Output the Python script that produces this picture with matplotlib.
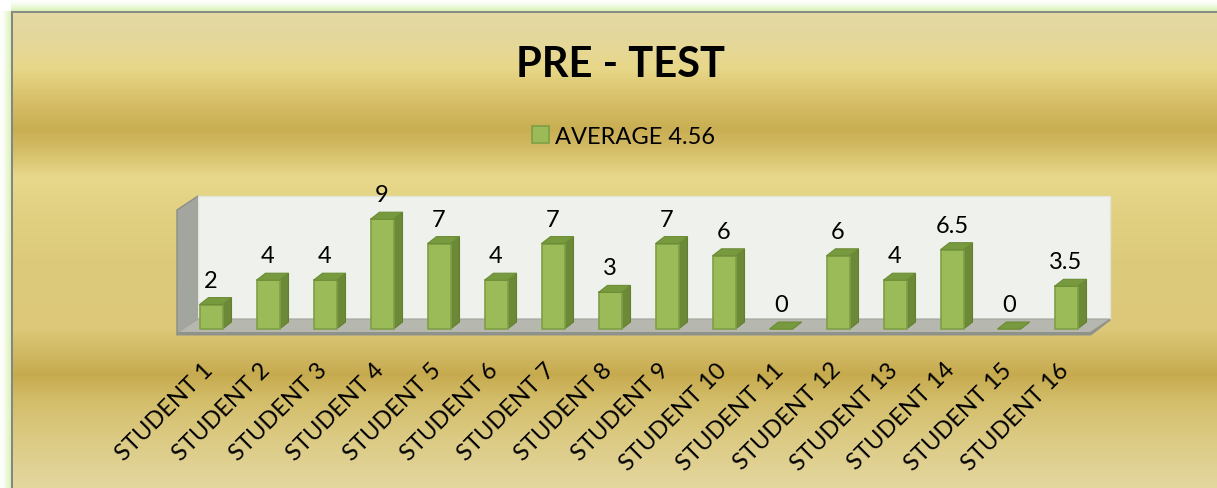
import numpy as np
import matplotlib
matplotlib.use("Agg")
import matplotlib.pyplot as plt
from matplotlib.patches import Polygon, Patch

# ---------------- data ----------------
categories = ["STUDENT 1", "STUDENT 2", "STUDENT 3", "STUDENT 4", "STUDENT 5",
              "STUDENT 6", "STUDENT 7", "STUDENT 8", "STUDENT 9", "STUDENT 10",
              "STUDENT 11", "STUDENT 12", "STUDENT 13", "STUDENT 14", "STUDENT 15",
              "STUDENT 16"]
scores = [2, 4, 4, 9, 7, 4, 7, 3, 7, 6, 0, 6, 4, 6.5, 0, 3.5]
value_labels = ["2", "4", "4", "9", "7", "4", "7", "3", "7", "6", "0", "6", "4",
                "6.5", "0", "3.5"]
series_name = "AVERAGE 4.56"
title_text = "PRE - TEST"

# ---------------- layout / style ----------------
W, H = 1217, 489
FONT = ["Lato", "DejaVu Sans"]
plt.rcParams["font.family"] = FONT

fig = plt.figure(figsize=(W / 100, H / 100), dpi=100)
fig.patch.set_facecolor("white")

# background image (frame glow + gold gradient)
def hex2rgb(h):
    h = h.lstrip("#")
    return np.array([int(h[i:i + 2], 16) / 255 for i in (0, 2, 4)])

stops = [(0, "#e4daa8"), (40, "#e4d79c"), (68, "#e8d88a"), (100, "#d8c06a"),
         (130, "#c9ae52"), (150, "#d3bc66"), (178, "#e8d98c"), (205, "#e3d283"),
         (260, "#ddcb7b"), (330, "#dcc878"), (358, "#cfb660"), (375, "#c6aa4e"),
         (400, "#d3bd6a"), (440, "#dccb84"), (489, "#e4d7a0")]
sy = np.array([s[0] for s in stops], float)
sc = np.array([hex2rgb(s[1]) for s in stops])
rows = np.arange(H)
grad = np.stack([np.interp(rows, sy, sc[:, k]) for k in range(3)], axis=1)

img = np.ones((H, W, 3))
img[:, :, :] = grad[:, None, :]
glow = hex2rgb("#d6f0ae")
white = np.ones(3)
bx, by = 11, 12
for x in range(0, bx):
    t = (x / bx) ** 1.5
    img[by:, x] = white * (1 - t) + glow * t
for y in range(0, by):
    t = (y / by) ** 1.5
    img[y, bx:] = white * (1 - t) + glow * t
img[:by, :bx] = white
img[by:, bx:bx + 2] = hex2rgb("#858585")
img[by:by + 2, bx:] = hex2rgb("#8a8c86")

bg = fig.add_axes([0, 0, 1, 1], zorder=0)
bg.imshow(img, extent=(0, W, H, 0), aspect="auto", interpolation="bilinear")
bg.set_xlim(0, W)
bg.set_ylim(H, 0)
bg.axis("off")

# main axes: pixel mapping of data space
X0, STEP, Y0, UNIT = 211.0, 57.0, 330.0, 12.2
L, R, T, B = 150, 1150, 190, 340
ax = fig.add_axes([L / W, 1 - B / H, (R - L) / W, (B - T) / H], zorder=1)
ax.set_xlim((L - X0) / STEP, (R - X0) / STEP)
ax.set_ylim((Y0 - B) / UNIT, (Y0 - T) / UNIT)
ax.patch.set_alpha(0)
ax.axis("off")

def px(x):
    return (x - X0) / STEP

def py(y):
    return (Y0 - y) / UNIT

# walls and floor
side_wall = Polygon([(px(177), py(335)), (px(177), py(211)), (px(198), py(197)),
                     (px(198), py(320))], closed=True, facecolor="#a3a59f",
                    edgecolor="#8c8e88", lw=1, clip_on=False, zorder=1)
back_wall = Polygon([(px(198), py(320)), (px(198), py(197)), (px(1110), py(197)),
                     (px(1110), py(320))], closed=True, facecolor="#eff2ec",
                    edgecolor="#e2e4da", lw=1, clip_on=False, zorder=1)
floor = Polygon([(px(177), py(334)), (px(198), py(320)), (px(1110), py(320)),
                 (px(1090), py(334))], closed=True, facecolor="#b6b8b0",
                edgecolor="#a4a69e", lw=0.8, clip_on=False, zorder=1)
floor_edge = Polygon([(px(177), py(333)), (px(1090), py(333)), (px(1110), py(320)),
                      (px(1111), py(321)), (px(1091), py(336.5)), (px(176), py(336.5))],
                     closed=True, facecolor="#8f918b", edgecolor="none",
                     clip_on=False, zorder=1)
for p in (side_wall, back_wall, floor, floor_edge):
    ax.add_patch(p)

# 3D bars
hw = 11.5 / STEP          # half front width
dx = 9.0 / STEP           # depth offset x
dy = 7.0 / UNIT           # depth offset y
FRONT, SIDE, TOP, EDGE = "#9bbb59", "#6b8937", "#789a3e", "#7f9f45"
for i, v in enumerate(scores):
    front = Polygon([(i - hw, 0), (i - hw, v), (i + hw, v), (i + hw, 0)], closed=True,
                    facecolor=FRONT, edgecolor=EDGE, lw=1.2, zorder=3)
    side = Polygon([(i + hw, 0), (i + hw + dx, dy), (i + hw + dx, v + dy), (i + hw, v)],
                   closed=True, facecolor=SIDE, edgecolor="#627f30", lw=0.8, zorder=3)
    top = Polygon([(i - hw, v), (i - hw + dx, v + dy), (i + hw + dx, v + dy), (i + hw, v)],
                  closed=True, facecolor=TOP, edgecolor="#6c8c36", lw=0.8, zorder=3)
    for p in (side, front, top):
        ax.add_patch(p)
    ax.text(i, v + dy + 7.0 / UNIT, value_labels[i], ha="center", va="bottom",
            fontsize=17, color="black", zorder=4, clip_on=False)

# category labels
for i, c in enumerate(categories):
    ax.text(i - 1.0 / STEP, py(367), c, rotation=45, rotation_mode="anchor",
            ha="right", va="center", fontsize=17, color="black", clip_on=False)

# title and legend
fig.text(620 / W, 1 - 65 / H, title_text, ha="center", va="center",
         fontsize=30, fontweight="bold", color="black")
handle = Patch(facecolor=FRONT, edgecolor=EDGE, lw=1.2)
fig.legend([handle], [series_name], loc="center",
           bbox_to_anchor=(624 / W, 1 - 137.5 / H), bbox_transform=fig.transFigure,
           frameon=False, fontsize=17, handlelength=0.72, handleheight=0.72,
           handletextpad=0.25, borderpad=0, borderaxespad=0)

fig.savefig("out.png", dpi=100, facecolor=fig.get_facecolor())
